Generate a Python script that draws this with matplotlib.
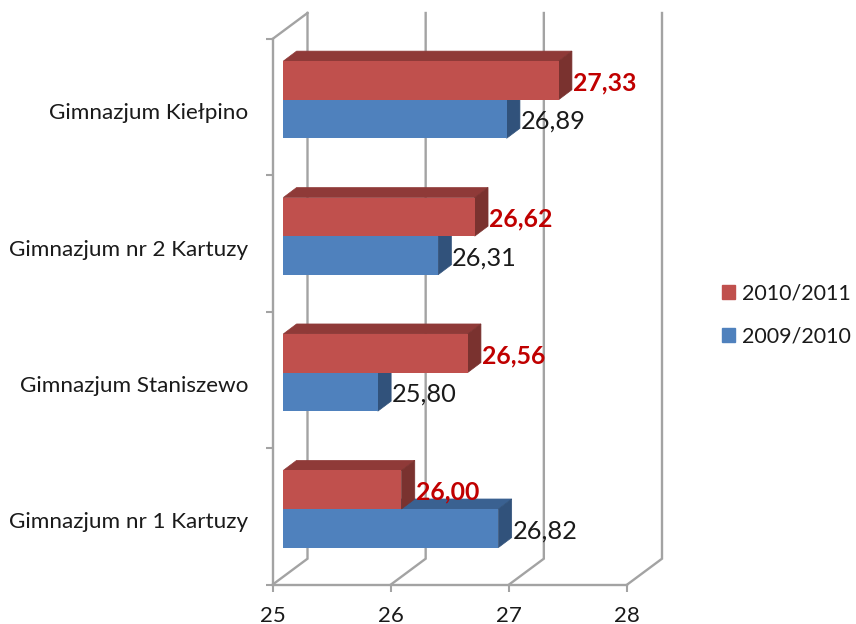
import matplotlib
matplotlib.use("Agg")
import matplotlib.pyplot as plt
from matplotlib.patches import Patch, Polygon

plt.rcParams['font.family'] = ['Lato', 'DejaVu Sans']

# data, bottom to top
categories = ['Gimnazjum nr 1 Kartuzy', 'Gimnazjum Staniszewo', 'Gimnazjum nr 2 Kartuzy', 'Gimnazjum Kiełpino']
values_2009 = [26.82, 25.80, 26.31, 26.89]
values_2010 = [26.00, 26.56, 26.62, 27.33]
series_names = ['2010/2011', '2009/2010']
x_ticks = [25, 26, 27, 28]

W, H = 856, 624
GRID = '#a3a3a3'
TEXT = '#1a1a1a'

fig = plt.figure(figsize=(W / 100, H / 100), dpi=100)
# the axes is the front plane of the fake 3D box
left, right, bottom, top = 272.5, 627, 584.7, 39
ax = fig.add_axes([left / W, 1 - bottom / H, (right - left) / W, (bottom - top) / H])
ax.set_xlim(25, 28)
ax.set_ylim(0, 4)
ax.patch.set_visible(False)

px_x = 3 / (right - left)
px_y = 4 / (bottom - top)

# back wall and floor
wall_dx, wall_dy = 35 * px_x, 26 * px_y
for t in x_ticks:
    ax.plot([t, t + wall_dx, t + wall_dx], [0, wall_dy, 4 + wall_dy], color=GRID, lw=1.7,
            clip_on=False, zorder=1, solid_joinstyle='miter')
ax.plot([25, 25 + wall_dx], [4, 4 + wall_dy], color=GRID, lw=1.7, clip_on=False, zorder=1)

for name in ['top', 'right']:
    ax.spines[name].set_visible(False)
for name in ['left', 'bottom']:
    ax.spines[name].set_color(GRID)
    ax.spines[name].set_linewidth(1.7)
    ax.spines[name].set_zorder(1)

# bars sit a little inside the box
start = 25 + 10.8 * px_x
depth_x, depth_y = 13.3 * px_x, 10 * px_y
shift_y = 7.5 * px_y
bar_h = 38.6 * px_y


def draw_bar(y_low, value, front, top_col, side_col, z):
    end = start + (value - 25)
    ax.barh(y_low, end - start, height=bar_h, left=start, align='edge', color=front, zorder=z + 0.2,
            clip_on=False)
    ax.add_patch(Polygon([(start, y_low + bar_h), (start + depth_x, y_low + bar_h + depth_y),
                          (end + depth_x, y_low + bar_h + depth_y), (end, y_low + bar_h)],
                         color=top_col, lw=0.5, zorder=z, clip_on=False))
    ax.add_patch(Polygon([(end, y_low), (end + depth_x, y_low + depth_y),
                          (end + depth_x, y_low + bar_h + depth_y), (end, y_low + bar_h)],
                         color=side_col, lw=0.5, zorder=z + 0.1, clip_on=False))
    return end + depth_x


for i in range(len(categories)):
    mid = i + 0.5 + shift_y
    end_b = draw_bar(mid - bar_h, values_2009[i], '#4f81bd', '#3a6191', '#31527b', 3)
    end_r = draw_bar(mid, values_2010[i], '#c0504d', '#8f3a38', '#7a322f', 4)
    ax.text(end_b + 0.8 * px_x, mid - bar_h / 2 - 2.5 * px_y, f'{values_2009[i]:.2f}'.replace('.', ','),
            fontsize=18.3, color=TEXT, va='center', ha='left', zorder=6)
    ax.text(end_r + 1.2 * px_x, mid + bar_h / 2 - 2.5 * px_y, f'{values_2010[i]:.2f}'.replace('.', ','),
            fontsize=17.8, color='#c00000', fontweight='bold', va='center', ha='left', zorder=6)

# category labels on major ticks, band edges on minor ticks
ax.set_yticks([i + 0.5 - 4 * px_y for i in range(4)])
ax.set_yticklabels(categories, fontsize=16.2, color=TEXT)
ax.set_yticks(range(5), minor=True)
ax.tick_params(axis='y', which='major', length=0, pad=17.5)
ax.tick_params(axis='y', which='minor', length=5, width=1.5, color=GRID, direction='out')

ax.set_xticks(x_ticks)
ax.set_xticklabels([str(t) for t in x_ticks], fontsize=16, color=TEXT)
ax.tick_params(axis='x', length=5, width=1.5, color=GRID, pad=10)

handles = [Patch(color='#c0504d', label=series_names[0]), Patch(color='#4f81bd', label=series_names[1])]
fig.legend(handles=handles, loc='center left', bbox_to_anchor=(722 / W, 1 - 315 / H), frameon=False,
           fontsize=15.5, labelcolor=TEXT, handlelength=0.62, handleheight=0.62, handletextpad=0.3,
           labelspacing=1.1, borderpad=0, borderaxespad=0)

fig.savefig('out.png', dpi=100)
